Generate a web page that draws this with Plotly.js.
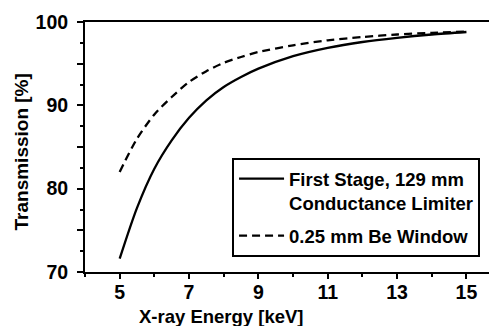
<!DOCTYPE html>
<html>
<head>
<meta charset="utf-8">
<script src="https://cdn.plot.ly/plotly-3.0.1.min.js"></script>
<style>html,body{margin:0;padding:0;background:#fff;}#chart{width:489px;height:326px;}</style>
</head>
<body>
<div id="chart"></div>
<script>
// Data
const energy = [5, 5.5, 6, 6.5, 7, 7.5, 8, 8.5, 9, 10, 11, 12, 13, 14, 15];
const firstStage = [71.6, 77.7, 82.4, 85.8, 88.5, 90.6, 92.2, 93.4, 94.4, 95.9, 96.9, 97.6, 98.1, 98.5, 98.8];
const beWindow = [82.0, 86.0, 88.9, 91.0, 92.8, 94.1, 95.1, 95.8, 96.4, 97.2, 97.8, 98.2, 98.5, 98.7, 98.85];
const seriesNames = ["First Stage, 129 mm<br>Conductance Limiter", "0.25 mm Be Window"];
const xTickVals = [5, 7, 9, 11, 13, 15];
const xTickText = ["5", "7", "9", "11", "13", "15"];
const yTickVals = [70, 75, 80, 85, 90, 95, 100];
const yTickText = ["70", "", "80", "", "90", "", "100"];
const xTitle = "X-ray Energy [keV]";
const yTitle = "Transmission [%]";

const font = {family: "Liberation Sans, Arial, sans-serif", size: 18.5, color: "#000", weight: "bold"};
const titleFont = {family: "Liberation Sans, Arial, sans-serif", size: 19, color: "#000", weight: "bold"};
const tickFont = {family: "Liberation Sans, Arial, sans-serif", size: 19.5, color: "#000", weight: "bold"};

const traces = [
  {x: energy, y: firstStage, name: seriesNames[0], legendgroup: "g1", mode: "lines",
   line: {color: "#000", width: 2.3, shape: "spline", smoothing: 0.8}},
  {x: energy, y: beWindow, name: seriesNames[1], legendgroup: "g2", mode: "lines",
   line: {color: "#000", width: 2.3, dash: "8px,5px", shape: "spline", smoothing: 0.8}}
];

const layout = {
  width: 489, height: 326,
  margin: {l: 85, r: 0, t: 22, b: 54},
  paper_bgcolor: "#fff", plot_bgcolor: "#fff",
  font: font,
  showlegend: true,
  legend: {
    x: 0.364, y: 0.456, xanchor: "left", yanchor: "top",
    bordercolor: "#000", borderwidth: 2, bgcolor: "#fff",
    font: font, valign: "top", itemwidth: 45,
    traceorder: "grouped", tracegroupgap: 6
  },
  xaxis: {
    range: [4, 15.65], showgrid: false, zeroline: false,
    showline: true, linecolor: "#000", linewidth: 2, mirror: true,
    ticks: "outside", ticklen: 5, tickwidth: 2, tickcolor: "#000",
    tickvals: xTickVals, ticktext: xTickText, tickfont: tickFont, ticklabelstandoff: -3,
    minor: {dtick: 1, tick0: 4, ticks: "outside", ticklen: 3, tickwidth: 2, tickcolor: "#000"}
  },
  yaxis: {
    range: [70, 100], showgrid: false, zeroline: false,
    showline: true, linecolor: "#000", linewidth: 2,
    ticks: "outside", ticklen: 6, tickwidth: 2, tickcolor: "#000",
    tickvals: yTickVals, ticktext: yTickText, tickfont: tickFont, ticklabelstandoff: 5,
    minor: {dtick: 2.5, tick0: 70, ticks: "outside", ticklen: 3, tickwidth: 2, tickcolor: "#000"}
  },
  annotations: [
    {text: xTitle, xref: "paper", yref: "paper", x: 0.337, y: -0.128,
     xanchor: "center", yanchor: "top", showarrow: false, font: font},
    {text: yTitle, xref: "paper", yref: "paper", x: -0.156, y: 0.482, textangle: -90,
     xanchor: "center", yanchor: "middle", showarrow: false, font: titleFont}
  ]
};

Plotly.newPlot("chart", traces, layout, {staticPlot: true, displayModeBar: false});
</script>
</body>
</html>
